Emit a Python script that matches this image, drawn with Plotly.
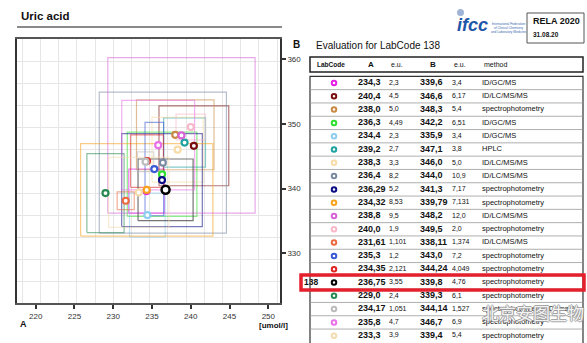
import plotly.graph_objects as go

# ---------------- data ----------------
a_txt = ["234,3", "240,4", "238,0", "236,3", "234,4", "239,2", "238,3", "236,4", "236,29", "234,32",
         "238,8", "240,0", "231,61", "235,3", "234,35", "236,75", "229,0", "234,17", "235,8", "233,3"]
a_eu_txt = ["2,3", "4,5", "5,0", "4,49", "2,3", "2,7", "3,3", "8,2", "5,2", "8,53",
            "9,5", "1,9", "1,101", "1,2", "2,121", "3,55", "2,4", "1,051", "4,7", "3,9"]
b_txt = ["339,6", "346,6", "348,3", "342,2", "335,9", "347,1", "346,0", "344,0", "341,3", "339,79",
         "348,2", "349,5", "338,11", "343,0", "344,24", "339,8", "339,3", "344,14", "346,7", "339,4"]
b_eu_txt = ["3,4", "6,17", "5,4", "6,51", "3,4", "3,8", "5,0", "10,9", "7,17", "7,131",
            "12,0", "2,0", "1,374", "7,2", "4,049", "4,76", "6,1", "1,527", "6,9", "5,4"]
methods = ["ID/GC/MS", "ID/LC/MS/MS", "spectrophotometry", "ID/GC/MS", "ID/GC/MS", "HPLC",
           "ID/LC/MS/MS", "ID/LC/MS/MS", "spectrophotometry", "spectrophotometry", "ID/LC/MS/MS",
           "spectrophotometry", "ID/LC/MS/MS", "spectrophotometry", "spectrophotometry",
           "spectrophotometry", "spectrophotometry", "spectrophotometry (Dumas)",
           "spectrophotometry", "spectrophotometry"]
lab_codes = ["", "", "", "", "", "", "", "", "", "", "", "", "", "", "", "138", "", "", "", ""]
colors = ["#e61ee6", "#7a0d0d", "#c98a45", "#2ee02e", "#8fcdf0", "#1fa3a0", "#f7dca8", "#7b8aa3",
          "#0d0d85", "#f7a21e", "#d864d8", "#f7b8c8", "#ec6a40", "#3a5ad6", "#e02424", "#000000",
          "#2a8a55", "#bcbcbc", "#e870e8", "#f2dcb0"]
highlight_code = "138"

x_ticks = [220, 225, 230, 235, 240, 245, 250]
y_ticks = [330, 340, 350, 360]


def num(s):
    return float(s.replace(",", "."))


a_vals = [num(s) for s in a_txt]
a_eu = [num(s) for s in a_eu_txt]
b_vals = [num(s) for s in b_txt]
b_eu = [num(s) for s in b_eu_txt]

# ---------------- layout constants (pixels) ----------------
W, H = 587, 343
PL, PR, PT, PB = 17, 280, 39, 303
FONT = "Liberation Sans, Arial, sans-serif"

COL_CODE, COL_DOT, COL_A, COL_AEU, COL_B, COL_BEU, COL_M = 304, 334, 358, 389, 420, 452, 482
ROW0, ROW_H = 83, 13.3
TBL_L, TBL_R = 310, 583

fig = go.Figure()

# ---------------- chart rectangles ----------------
for i in range(len(a_vals)):
    x0, x1 = a_vals[i] - a_eu[i], a_vals[i] + a_eu[i]
    y0, y1 = b_vals[i] - b_eu[i], b_vals[i] + b_eu[i]
    is_hl = lab_codes[i] == highlight_code
    fig.add_trace(go.Scatter(
        x=[x0, x1, x1, x0, x0], y=[y0, y0, y1, y1, y0], mode="lines",
        line=dict(color="#555555" if is_hl else colors[i], width=1.2),
        opacity=0.8 if is_hl else 0.55, hoverinfo="skip", showlegend=False,
        xaxis="x", yaxis="y"))

# ---------------- chart points ----------------
for i in range(len(a_vals)):
    is_hl = lab_codes[i] == highlight_code
    fig.add_trace(go.Scatter(
        x=[a_vals[i]], y=[b_vals[i]], mode="markers",
        marker=dict(symbol="circle", size=8 if is_hl else 6, color="white",
                    line=dict(color=colors[i], width=2.5 if is_hl else 2.2)),
        showlegend=False, xaxis="x", yaxis="y"))

# invisible trace to activate grid axes
fig.add_trace(go.Scatter(x=[0], y=[0], mode="markers", marker=dict(opacity=0),
                         showlegend=False, hoverinfo="skip", xaxis="x2", yaxis="y2"))

# ---------------- table (pixel overlay axis x3/y3) ----------------
rows_y = [ROW0 + i * ROW_H for i in range(len(a_vals))]


def col_text(xpos, texts, size, bold=False, color="#111111"):
    fig.add_trace(go.Scatter(
        x=[xpos] * len(texts), y=rows_y, mode="text",
        text=[f"<b>{t}</b>" if bold else t for t in texts],
        textposition="middle right", textfont=dict(family=FONT, size=size, color=color),
        showlegend=False, hoverinfo="skip", xaxis="x3", yaxis="y3", cliponaxis=False))


fig.add_trace(go.Scatter(
    x=[COL_DOT] * len(a_vals), y=rows_y, mode="markers",
    marker=dict(symbol="circle", size=4.5, color="white",
                line=dict(color=colors, width=2)),
    showlegend=False, hoverinfo="skip", xaxis="x3", yaxis="y3"))
col_text(COL_CODE, lab_codes, 8.5, bold=True)
col_text(COL_A, a_txt, 9, bold=True)
col_text(COL_AEU, a_eu_txt, 7)
col_text(COL_B, b_txt, 9, bold=True)
col_text(COL_BEU, b_eu_txt, 7)
col_text(COL_M, methods, 7.5)

shapes = []
# title underline
shapes.append(dict(type="line", xref="x3", yref="y3", x0=PL, x1=282, y0=27, y1=27,
                   line=dict(color="#8a8a8a", width=2)))
# header box
shapes.append(dict(type="rect", xref="x3", yref="y3", x0=TBL_L, x1=TBL_R, y0=57, y1=72,
                   line=dict(color="#222222", width=1.5)))
# table body box
shapes.append(dict(type="rect", xref="x3", yref="y3", x0=TBL_L, x1=TBL_R, y0=ROW0 - ROW_H / 2,
                   y1=H + 5, line=dict(color="#333333", width=1.2)))
for k in range(1, len(a_vals)):
    yk = ROW0 - ROW_H / 2 + k * ROW_H
    shapes.append(dict(type="line", xref="x3", yref="y3", x0=TBL_L, x1=TBL_R, y0=yk, y1=yk,
                       line=dict(color="#9a9a9a", width=0.8)))
# highlight box
hl = lab_codes.index(highlight_code)
shapes.append(dict(type="rect", xref="x3", yref="y3", x0=301, x1=584,
                   y0=rows_y[hl] - 7.5, y1=rows_y[hl] + 7.5,
                   line=dict(color="#e3202c", width=3.5)))
# RELA box
shapes.append(dict(type="rect", xref="x3", yref="y3", x0=527, x1=584, y0=13, y1=43,
                   line=dict(color="#555555", width=1)))
# ifcc logo dot
shapes.append(dict(type="circle", xref="x3", yref="y3", x0=457, x1=464, y0=9, y1=16,
                   fillcolor="#9fb3d6", line=dict(width=0)))
fig.update_layout(shapes=shapes)

ann = []


def txt(x, y, s, size, bold=False, color="#111111", xanchor="left", family=FONT, **kw):
    ann.append(dict(xref="x3", yref="y3", x=x, y=y, text=f"<b>{s}</b>" if bold else s,
                    showarrow=False, xanchor=xanchor, yanchor="middle",
                    font=dict(family=family, size=size, color=color), **kw))


txt(19, 16, "Uric acid", 11.5, bold=True)
txt(314, 45, "Evaluation for LabCode 138", 10)
txt(291, 44, "B", 10, bold=True)
txt(18, 324, "A", 9, bold=True)
txt(290, 325, "[umol/l]", 8, bold=True, xanchor="right")
txt(531, 21, "RELA 2020", 9, bold=True)
txt(531, 34, "31.08.20", 6.5, bold=True)
txt(455, 25, "<i>ifcc</i>", 18, bold=True, color="#1f56a8")
txt(489, 28, "International Federation<br>of Clinical Chemistry<br>and Laboratory Medicine", 3.2,
    color="#3a68b0")
txt(315, 64.5, "LabCode", 6.5, bold=True)
txt(COL_A + 8, 64.5, "A", 8, bold=True)
txt(COL_AEU, 64.5, "e.u.", 7)
txt(COL_B + 8, 64.5, "B", 8, bold=True)
txt(COL_BEU, 64.5, "e.u.", 7)
txt(COL_M, 64.5, "method", 7)
# watermark
txt(480, 312, "北京安图生物", 17, color="rgba(255,255,255,0.9)",
    family="Noto Sans CJK SC")
ann[-1]["font"]["shadow"] = "1px 0 0 #9a9a9a, -1px 0 0 #9a9a9a, 0 1px 0 #9a9a9a, 0 -1px 0 #9a9a9a"
fig.update_layout(annotations=ann)

# ---------------- axes ----------------
xd = [PL / W, PR / W]
yd = [1 - PB / H, 1 - PT / H]
ppu_x = (268.3 - 35.7) / 30.0
ppu_y = (253.3 - 59.0) / 30.0
x_lo = 220 - (35.7 - PL) / ppu_x
x_hi = 250 + (PR - 268.3) / ppu_x
y_hi = 360 + (59.0 - PT) / ppu_y
y_lo = 330 - (PB - 253.3) / ppu_y

fig.update_layout(
    width=W, height=H, margin=dict(l=0, r=0, t=0, b=0),
    paper_bgcolor="white", plot_bgcolor="rgba(0,0,0,0)",
    font=dict(family=FONT, color="#222222"),
    showlegend=False,
    xaxis=dict(domain=xd, range=[x_lo, x_hi], tickvals=x_ticks, ticks="outside", ticklen=4,
               tickwidth=1.5, tickcolor="#333333", showgrid=False, zeroline=False,
               showline=True, linecolor="#555555", linewidth=2, mirror=True,
               tickfont=dict(size=8, color="#333333"), anchor="y"),
    yaxis=dict(domain=yd, range=[y_lo, y_hi], tickvals=y_ticks, side="right", ticks="outside",
               ticklen=4, tickwidth=1.5, tickcolor="#333333", showgrid=False, zeroline=False,
               showline=True, linecolor="#333333", linewidth=1.6, mirror=True,
               tickfont=dict(size=8, color="#333333"), anchor="x"),
    xaxis2=dict(domain=xd, range=[-(22.3 - PL) / 18.2, (PR - 22.3) / 18.2], dtick=1, tick0=0,
                showgrid=True, gridcolor="#e6e6e6", gridwidth=1, showticklabels=False,
                zeroline=False, anchor="y2", overlaying="x", layer="below traces"),
    yaxis2=dict(domain=yd, range=[0, 12], dtick=1, tick0=0, showgrid=True, gridcolor="#e6e6e6",
                gridwidth=1, showticklabels=False, zeroline=False, anchor="x2", overlaying="y",
                layer="below traces"),
    xaxis3=dict(domain=[0, 1], range=[0, W], visible=False, anchor="y3"),
    yaxis3=dict(domain=[0, 1], range=[H, 0], visible=False, anchor="x3"),
)

fig.write_html("out.html")
